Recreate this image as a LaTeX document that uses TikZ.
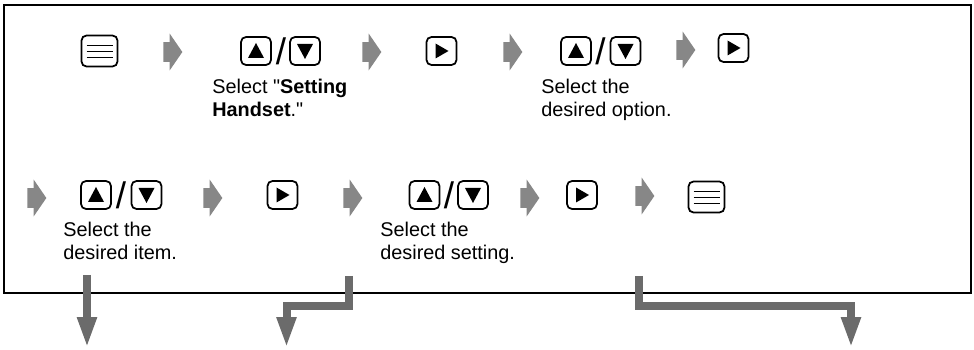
\documentclass[tikz,border=0pt]{standalone}
\usepackage{fontspec}
\setmainfont{Liberation Sans}
\usetikzlibrary{arrows.meta,shapes.arrows}
\definecolor{stepgray}{HTML}{878787}
\definecolor{outgray}{HTML}{6B6B6B}

\begin{document}
\begin{tikzpicture}[x=0.02cm,y=-0.02cm,>=Latex,
  keybox/.style={draw,line width=1pt,rounded corners=0.1cm,minimum width=0.6cm,minimum height=0.56cm,inner sep=0pt},
  upkey/.style={keybox,path picture={\fill[sharp corners] ([shift={(-8,7)}]path picture bounding box.center) -- ++(16,0) -- ++(-8,-15) -- cycle;}},
  downkey/.style={keybox,path picture={\fill[sharp corners] ([shift={(-8,-7)}]path picture bounding box.center) -- ++(16,0) -- ++(-8,15) -- cycle;}},
  playkey/.style={keybox,path picture={\fill[sharp corners] ([shift={(-6,-7.5)}]path picture bounding box.center) -- ++(0,15) -- ++(13,-7.5) -- cycle;}},
  menukey/.style={keybox,minimum width=0.72cm,minimum height=0.62cm,path picture={\foreach \dy in {-6,0,6} \draw[sharp corners,line width=0.5pt] ([shift={(-13,\dy)}]path picture bounding box.center) -- ++(26,0);}},
  orsign/.style={font=\fontsize{21}{21}\selectfont,inner sep=0pt},
  nextstep/.style={single arrow,fill=stepgray,anchor=tail,inner xsep=0pt,inner ysep=0.19cm,minimum height=0.38cm,single arrow head extend=0.17cm,single arrow tip angle=111,single arrow head indent=0pt},
  hint/.style={align=left,anchor=north west,inner sep=0pt,font=\fontsize{11.3}{13}\selectfont},
  outarrow/.style={draw=outgray,line width=0.16cm,line join=miter,-{Triangle[length=0.62cm,width=0.36cm]}}]
\useasboundingbox (0,0) rectangle (974,350);
\draw[line width=1.2pt] (4,5) rectangle (971,293);

% first row
\node[menukey] (menuA) at (99.5,51) {};
\node[nextstep] (nextA) at (163,52) {};
\node[upkey] (upA) at (256,51) {};
\node[orsign] (orA) at (281,51) {/};
\node[downkey] (downA) at (305,51) {};
\node[hint] (selA) at (212,79) {Select \textquotedbl\textbf{Setting}\\\textbf{Handset}.\textquotedbl};
\node[nextstep] (nextB) at (362,52) {};
\node[playkey] (playA) at (441.5,51) {};
\node[nextstep] (nextC) at (503,52) {};
\node[upkey] (upB) at (576,51) {};
\node[orsign] (orB) at (600.5,51) {/};
\node[downkey] (downB) at (625.5,51) {};
\node[hint] (selB) at (541,79) {Select the\\desired option.};
\node[nextstep] (nextD) at (676,50) {};
\node[playkey] (playB) at (733.5,48) {};

% second row
\node[nextstep] (nextE) at (27,198) {};
\node[upkey] (upC) at (96,195) {};
\node[orsign] (orC) at (121,195) {/};
\node[downkey] (downC) at (146.5,195) {};
\node[hint] (selC) at (63,222) {Select the\\desired item.};
\node[nextstep] (nextF) at (203,198) {};
\node[playkey] (playC) at (282.5,195) {};
\node[nextstep] (nextG) at (343,198) {};
\node[upkey] (upD) at (424.5,195) {};
\node[orsign] (orD) at (449,195) {/};
\node[downkey] (downD) at (473,195) {};
\node[hint] (selD) at (380,222) {Select the\\desired setting.};
\node[nextstep] (nextH) at (520,198) {};
\node[playkey] (playD) at (582,195) {};
\node[nextstep] (nextI) at (635,196) {};
\node[menukey] (menuB) at (706.5,197) {};

% ways out
\coordinate (outA) at (87,275);
\coordinate (endA) at (87,348);
\coordinate (outB) at (349,276);
\coordinate (turnB) at (286.5,306.5);
\coordinate (endB) at (286.5,348);
\coordinate (outC) at (638.5,276);
\coordinate (turnC) at (851,306.5);
\coordinate (endC) at (851,348);
\draw[outarrow] (outA) -- (endA);
\draw[outarrow] (outB) |- (turnB) -- (endB);
\draw[outarrow] (outC) |- (turnC) -- (endC);
\end{tikzpicture}
\end{document}
